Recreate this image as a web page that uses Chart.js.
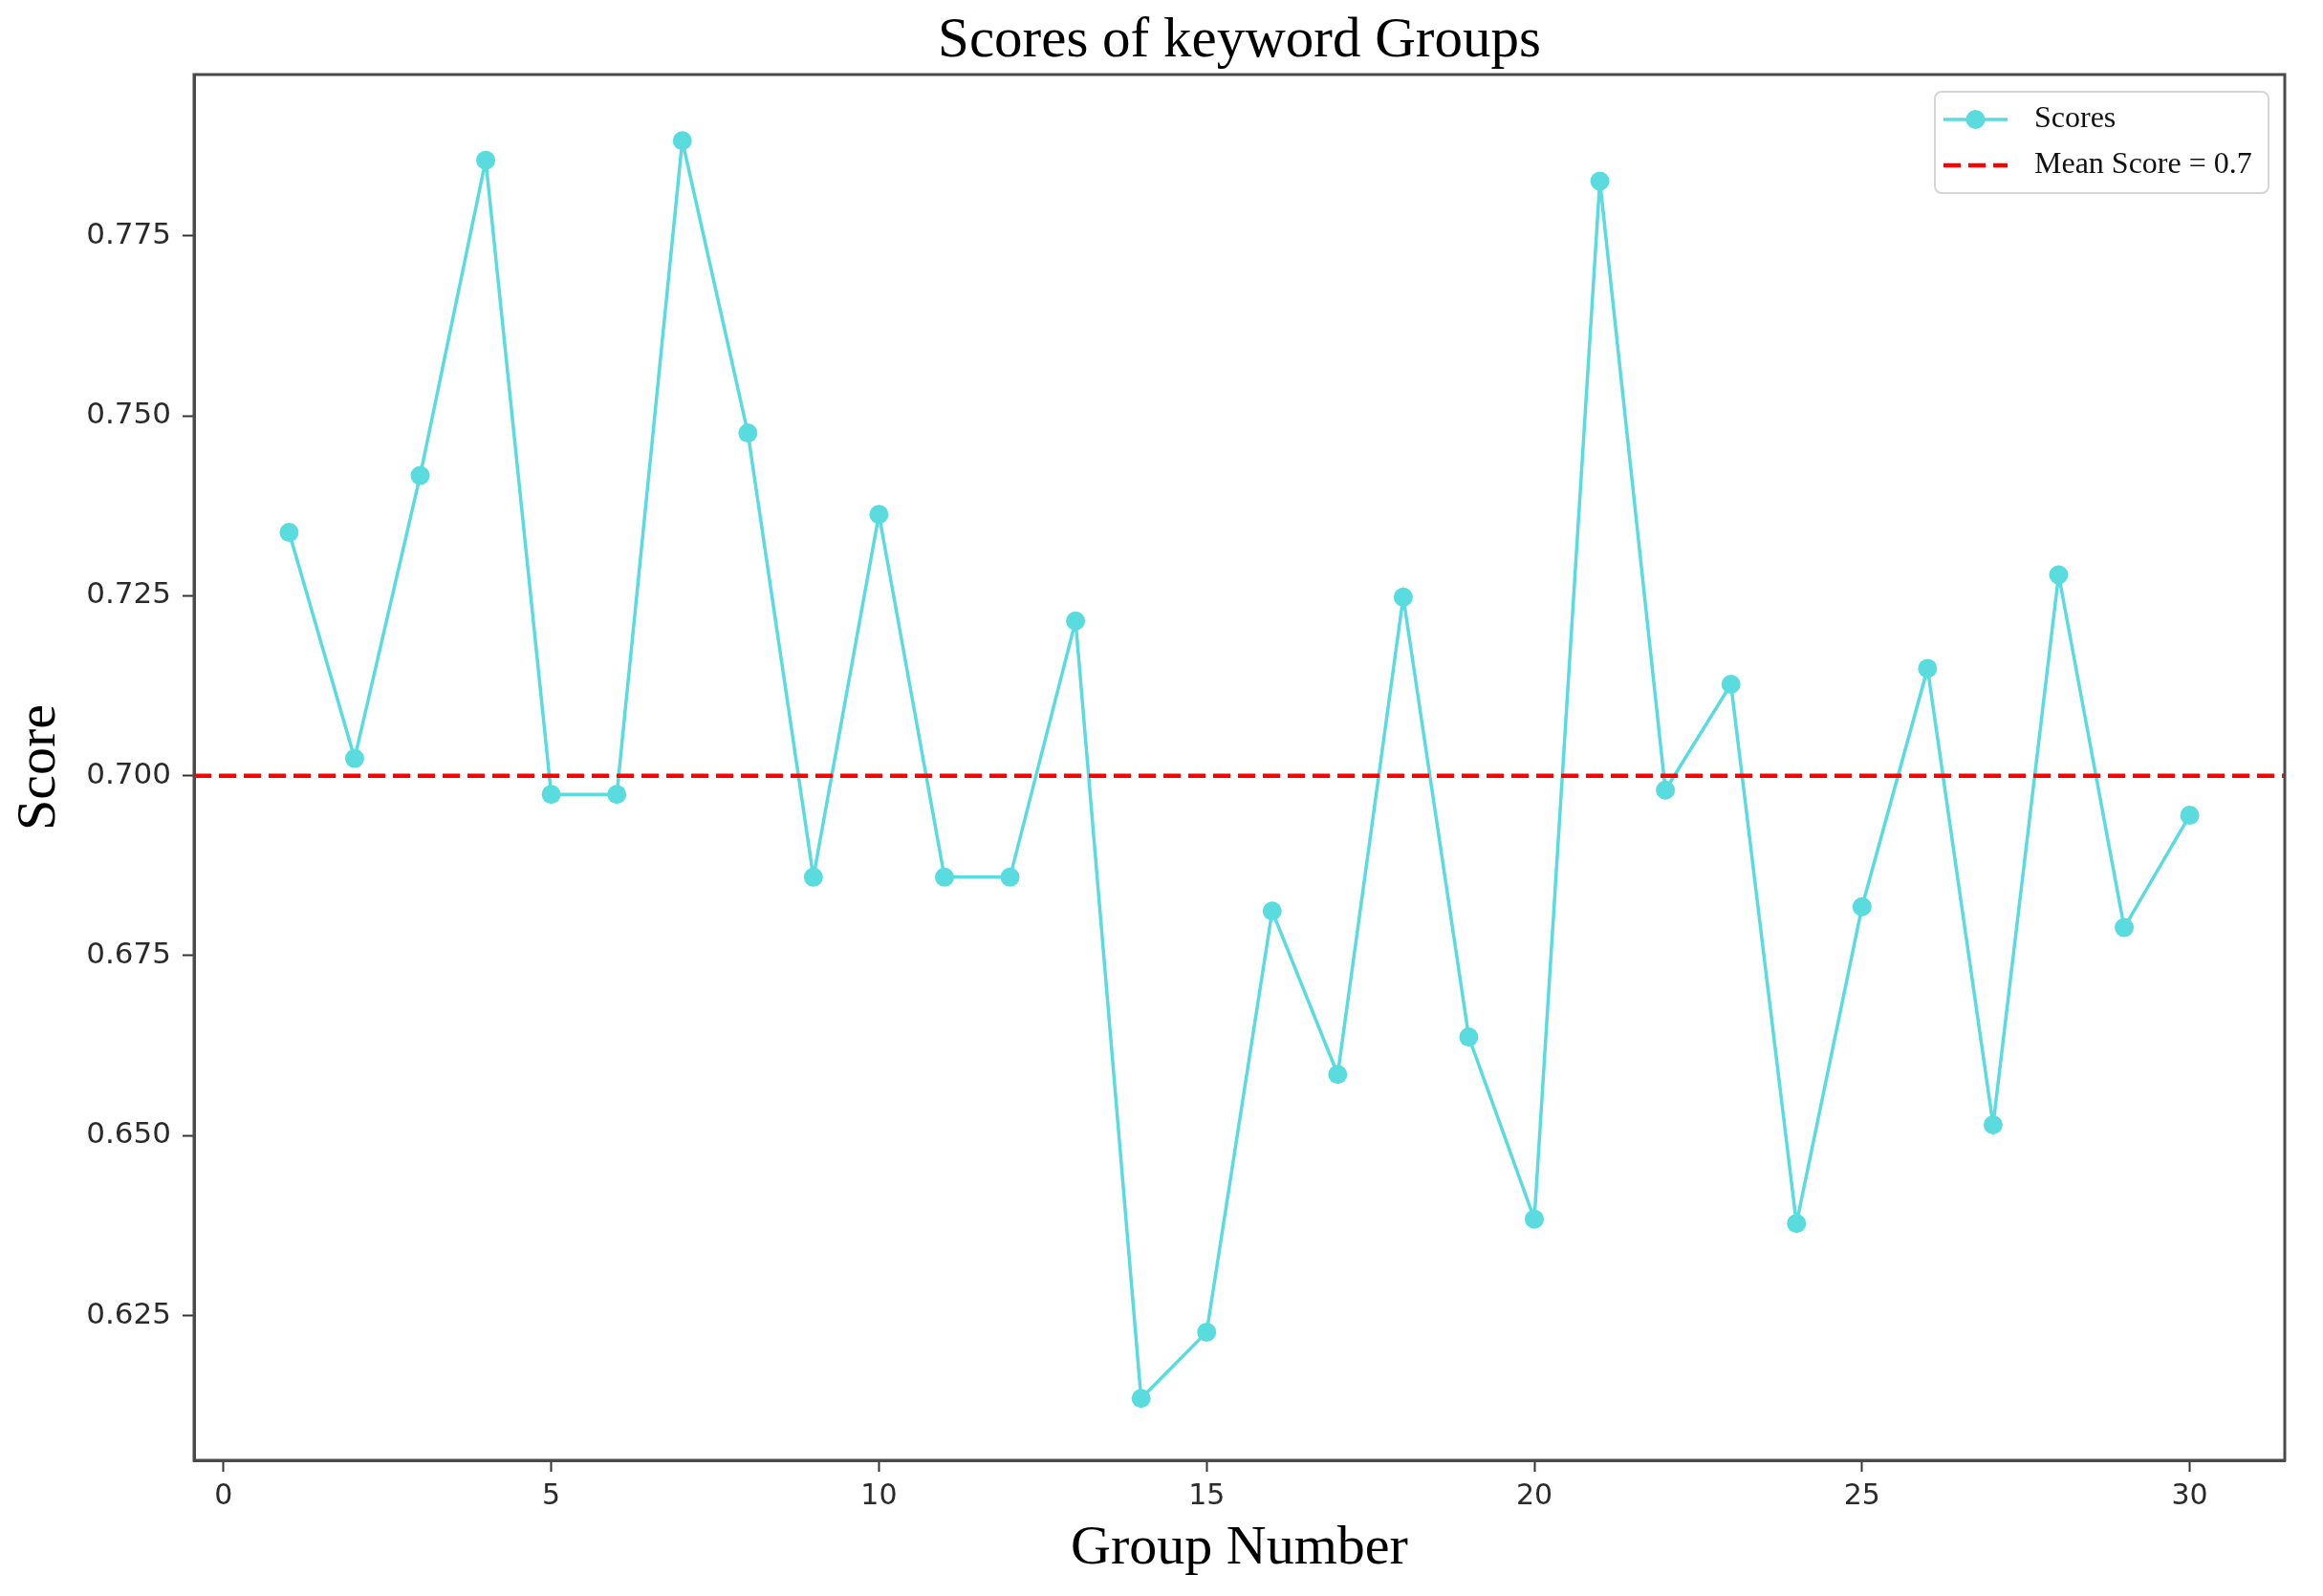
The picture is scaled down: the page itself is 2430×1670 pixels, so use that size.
<!DOCTYPE html>
<html>
<head>
<meta charset="utf-8">
<title>Scores of keyword Groups</title>
<script src="https://cdn.jsdelivr.net/npm/chart.js@4/dist/chart.umd.min.js"></script>
<style>
  html, body { margin: 0; padding: 0; background: #fff; }
  #wrap { width: 2430px; height: 1670px; }
</style>
</head>
<body>
<div id="wrap"><canvas id="chart" width="2430" height="1670"></canvas></div>
<script>
// data
const groups = [1, 2, 3, 4, 5, 6, 7, 8, 9, 10, 11, 12, 13, 14, 15,
  16, 17, 18, 19, 20, 21, 22, 23, 24, 25, 26, 27, 28, 29, 30];
const scores = [0.7338, 0.7024, 0.7417, 0.7855, 0.6974, 0.6974, 0.7882, 0.7476, 0.6859, 0.7363,
  0.6859, 0.6859, 0.7215, 0.6135, 0.6227, 0.6812, 0.6585, 0.7248, 0.6637, 0.6384,
  0.7826, 0.6980, 0.7127, 0.6378, 0.6818, 0.7149, 0.6515, 0.7279, 0.6789, 0.6945];
const meanScore = 0.7;

const xTicks = [0, 5, 10, 15, 20, 25, 30];
const yTicks = [0.625, 0.65, 0.675, 0.7, 0.725, 0.75, 0.775];
const xRange = [-0.45, 31.45];
const yRange = [0.6049, 0.7974];

const TITLE = 'Scores of keyword Groups';
const CYAN = '#5adcdf';
const RED = '#ff0000';
const SERIF = '"Liberation Serif", "Times New Roman", serif';
const SANS = '"DejaVu Sans", sans-serif';

// title centred on the axes, plot frame (top/right spines) and legend box
const framePlugin = {
  id: 'frame',
  afterDraw(chart) {
    const { ctx, chartArea: a } = chart;
    ctx.save();
    ctx.fillStyle = '#000';
    ctx.font = '59px ' + SERIF;
    ctx.textAlign = 'center';
    ctx.textBaseline = 'alphabetic';
    ctx.fillText(TITLE, (a.left + a.right) / 2, a.top - 19);

    ctx.strokeStyle = '#4a4a4a';
    ctx.lineWidth = 3;
    ctx.strokeRect(a.left, a.top, a.right - a.left, a.bottom - a.top);

    // legend
    const bx = a.right - 366, by = a.top + 18, bw = 349, bh = 106;
    ctx.beginPath();
    ctx.roundRect(bx, by, bw, bh, 7);
    ctx.fillStyle = 'rgba(255,255,255,0.85)';
    ctx.fill();
    ctx.strokeStyle = '#d6d6d6';
    ctx.lineWidth = 2;
    ctx.stroke();

    const x0 = bx + 9, x1 = bx + 76, tx = bx + 104;
    const r1 = by + 29, r2 = by + 77;
    ctx.strokeStyle = CYAN;
    ctx.lineWidth = 3.5;
    ctx.beginPath(); ctx.moveTo(x0, r1); ctx.lineTo(x1, r1); ctx.stroke();
    ctx.fillStyle = CYAN;
    ctx.beginPath(); ctx.arc((x0 + x1) / 2, r1, 10, 0, Math.PI * 2); ctx.fill();

    ctx.strokeStyle = RED;
    ctx.lineWidth = 4.5;
    ctx.setLineDash([18, 8]);
    ctx.beginPath(); ctx.moveTo(x0, r2); ctx.lineTo(x1, r2); ctx.stroke();
    ctx.setLineDash([]);

    ctx.fillStyle = '#111';
    ctx.font = '32px ' + SERIF;
    ctx.textBaseline = 'middle';
    ctx.textAlign = 'left';
    ctx.fillText('Scores', tx, r1);
    ctx.fillText('Mean Score = ' + meanScore, tx, r2);
    ctx.restore();
  }
};

new Chart(document.getElementById('chart'), {
  type: 'line',
  data: {
    datasets: [
      {
        label: 'Mean Score = ' + meanScore,
        data: xRange.map(x => ({ x: x, y: meanScore })),
        borderColor: RED,
        borderWidth: 4.5,
        borderDash: [18, 8],
        pointRadius: 0,
        order: 0
      },
      {
        label: 'Scores',
        data: groups.map((g, i) => ({ x: g, y: scores[i] })),
        borderColor: CYAN,
        backgroundColor: CYAN,
        borderWidth: 3.5,
        pointRadius: 10,
        pointBorderWidth: 0,
        tension: 0,
        order: 1
      }
    ]
  },
  options: {
    responsive: false,
    devicePixelRatio: 1,
    animation: false,
    layout: { padding: { left: 0, right: 40, top: 78, bottom: 0 } },
    plugins: {
      legend: { display: false },
      tooltip: { enabled: false },
      title: { display: false }
    },
    scales: {
      x: {
        type: 'linear',
        min: xRange[0],
        max: xRange[1],
        afterBuildTicks: s => { s.ticks = xTicks.map(v => ({ value: v })); },
        afterFit: s => { s.height = 142; },
        ticks: {
          color: '#2a2a2a',
          font: { family: SANS, size: 30 },
          padding: 8,
          maxRotation: 0,
          callback: v => String(v)
        },
        grid: { drawOnChartArea: false, tickLength: 12, tickColor: '#333', tickWidth: 2 },
        border: { display: true, color: '#4a4a4a', width: 3 },
        title: {
          display: true,
          text: 'Group Number',
          color: '#000',
          font: { family: SERIF, size: 58, lineHeight: 1.2 },
          padding: { top: 0, bottom: 14 }
        }
      },
      y: {
        type: 'linear',
        min: yRange[0],
        max: yRange[1],
        afterBuildTicks: s => { s.ticks = yTicks.map(v => ({ value: v })); },
        afterFit: s => { s.width = 203; },
        ticks: {
          color: '#2a2a2a',
          font: { family: SANS, size: 31 },
          padding: 12,
          callback: v => Number(v).toFixed(3)
        },
        grid: { drawOnChartArea: false, tickLength: 12, tickColor: '#333', tickWidth: 2 },
        border: { display: true, color: '#4a4a4a', width: 3 },
        title: {
          display: true,
          text: 'Score',
          color: '#000',
          font: { family: SERIF, size: 58, lineHeight: 1.2 },
          padding: { top: 7, bottom: 0 }
        }
      }
    }
  },
  plugins: [framePlugin]
});
</script>
</body>
</html>
